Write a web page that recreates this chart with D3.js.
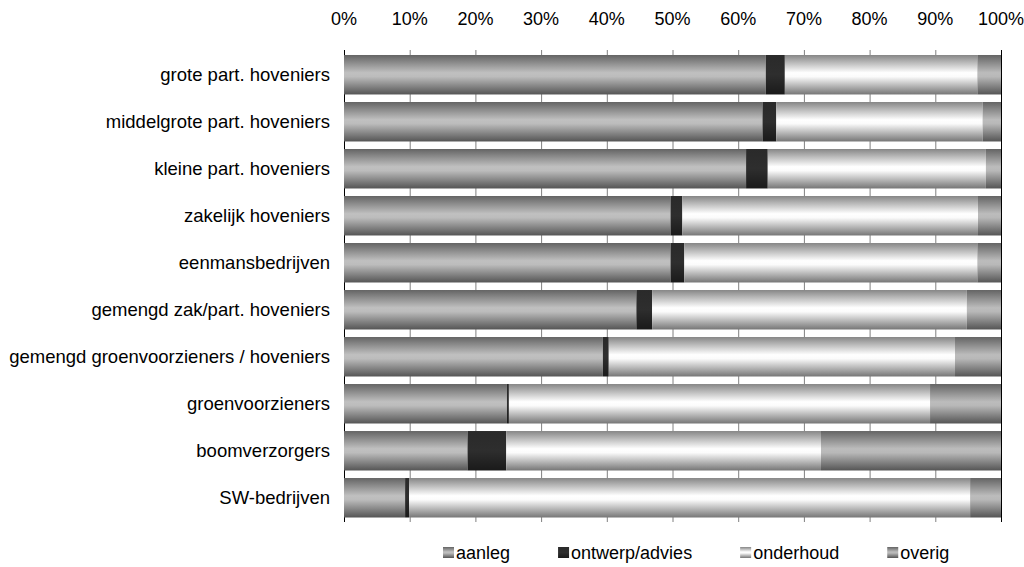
<!DOCTYPE html>
<html><head><meta charset="utf-8">
<script src="https://cdn.jsdelivr.net/npm/d3@7"></script>
<style>body{margin:0;background:#fff}svg{display:block;font-family:"Liberation Sans",Arial,sans-serif}</style>
</head><body><svg id="c" width="1024" height="567"></svg>
<script>
const categories = ["grote part. hoveniers","middelgrote part. hoveniers","kleine part. hoveniers","zakelijk hoveniers","eenmansbedrijven","gemengd zak/part. hoveniers","gemengd groenvoorzieners / hoveniers","groenvoorzieners","boomverzorgers","SW-bedrijven"];
const seriesNames = ["aanleg","ontwerp/advies","onderhoud","overig"];
const aanleg    = [64.2, 63.7, 61.2, 49.7, 49.7, 44.5, 39.4, 24.8, 18.8, 9.3];
const ontwerp   = [2.9, 2.1, 3.3, 1.8, 2.1, 2.4, 0.9, 0.3, 5.9, 0.6];
const onderhoud = [29.3, 31.4, 33.2, 45.0, 44.6, 47.9, 52.7, 64.1, 47.9, 85.4];
const overig    = [3.6, 2.8, 2.3, 3.5, 3.6, 5.2, 7.0, 10.8, 27.4, 4.7];
const tickValues = [0,10,20,30,40,50,60,70,80,90,100];

const rows = categories.map((c,i)=>({cat:c,"aanleg":aanleg[i],"ontwerp/advies":ontwerp[i],"onderhoud":onderhoud[i],"overig":overig[i]}));
const stacked = d3.stack().keys(seriesNames)(rows);

const svg = d3.select("#c");
const x = d3.scaleLinear().domain([0,100]).range([344,1001]);
const y = d3.scaleBand().domain(categories).range([51,521.5]).paddingInner(0.16).paddingOuter(0.085);

const defs = svg.append("defs");
const grads = [
  {id:"g0", stops:[[0,"#646464"],[0.45,"#c0c0c0"],[0.55,"#bcbcbc"],[1,"#555555"]]},
  {id:"g1", stops:[[0,"#2a2a2a"],[0.5,"#2e2e2e"],[1,"#1a1a1a"]]},
  {id:"g2", stops:[[0,"#868686"],[0.45,"#ffffff"],[0.55,"#fbfbfb"],[1,"#767676"]]},
  {id:"g3", stops:[[0,"#646464"],[0.45,"#bcbcbc"],[0.55,"#b8b8b8"],[1,"#555555"]]}
];
grads.forEach(g=>{
  const lg = defs.append("linearGradient").attr("id",g.id).attr("x1",0).attr("y1",0).attr("x2",0).attr("y2",1);
  g.stops.forEach(s=>lg.append("stop").attr("offset",s[0]).attr("stop-color",s[1]));
});

// gridlines
svg.append("g").selectAll("line").data(tickValues).join("line")
  .attr("x1",d=>x(d)+0.5).attr("x2",d=>x(d)+0.5)
  .attr("y1",50).attr("y2",522)
  .attr("stroke",d=>(d===0||d===100)?"#000":"#808080").attr("stroke-width",1);

// bars
svg.append("g").selectAll("g").data(stacked).join("g")
  .attr("fill",(d,i)=>`url(#g${i})`)
  .selectAll("rect").data(d=>d).join("rect")
  .attr("x",d=>x(d[0])).attr("width",d=>x(d[1])-x(d[0]))
  .attr("y",d=>y(d.data.cat)).attr("height",y.bandwidth());

// top axis labels
svg.append("g").selectAll("text").data(tickValues).join("text")
  .attr("x",d=>x(d)).attr("y",25).attr("text-anchor","middle")
  .attr("font-size",18).attr("fill","#000").text(d=>d+"%");

// category labels
svg.append("g").selectAll("text").data(categories).join("text")
  .attr("x",330).attr("y",d=>y(d)+y.bandwidth()/2).attr("dy","0.35em")
  .attr("text-anchor","end").attr("font-size",18.5).attr("fill","#000").text(d=>d);

// legend
const lg = svg.append("g");
let lx = 443;
seriesNames.forEach((s,i)=>{
  lg.append("rect").attr("x",lx).attr("y",547).attr("width",11).attr("height",11).attr("fill",`url(#g${i})`);
  const t = lg.append("text").attr("x",lx+13).attr("y",559).attr("font-size",18).attr("fill","#000").text(s);
  lx += 13 + t.node().getComputedTextLength() + 48;
});
</script></body></html>
